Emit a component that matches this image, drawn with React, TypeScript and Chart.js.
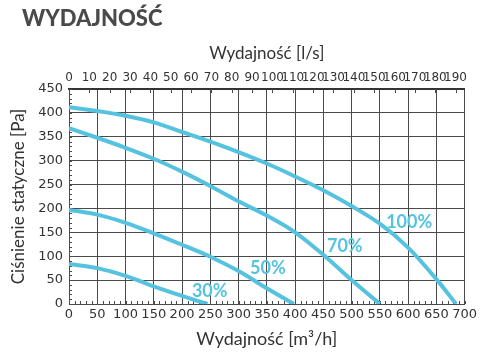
import React, { useEffect, useRef } from 'react';
import { Chart, registerables } from 'chart.js';

Chart.register(...registerables);

// ---- data ----
const flow100 = [0, 50, 100, 150, 200, 250, 300, 350, 400, 450, 500, 550, 600, 650, 685];
const pres100 = [412, 404, 394, 380, 360, 340, 318, 294, 267, 238, 205, 168, 118, 52, 0];
const flow70 = [0, 50, 100, 150, 200, 250, 300, 350, 400, 450, 500, 550];
const pres70 = [368, 348, 327, 304, 277, 247, 215, 185, 150, 103, 50, 0];
const flow50 = [0, 50, 100, 150, 200, 250, 300, 350, 398];
const pres50 = [197, 187, 170, 148, 124, 99, 69, 33, 0];
const flow30 = [0, 50, 100, 150, 200, 245];
const pres30 = [84, 75, 59, 37, 17, 0];

const seriesLabels = ['100%', '70%', '50%', '30%'];
const labelFlow = [602, 488, 352, 249];
const labelPres = [172, 121, 75, 27];

const lsTicks = [0, 10, 20, 30, 40, 50, 60, 70, 80, 90, 100, 110, 120, 130, 140, 150, 160, 170, 180, 190];

const titleText = 'WYDAJNOŚĆ';
const xTitle = 'Wydajność [m³/h]';
const x2Title = 'Wydajność [l/s]';
const yTitle = 'Ciśnienie statyczne [Pa]';

const M3H_PER_LS = 3.6;

const CURVE = '#55c3df';
const GRID = '#4a4a4a';
const TXT = '#333333';
const TICK_FONT = "'DejaVu Sans', 'Liberation Sans', sans-serif";
const TITLE_FONT = "'Lato', 'Open Sans', sans-serif";

const toPts = (xs: number[], ys: number[]) => xs.map((x, i) => ({ x, y: ys[i] }));

const decorPlugin = {
  id: 'decor',
  beforeDatasetsDraw(chart: any) {
    const { ctx, chartArea } = chart;
    const x = chart.scales.x;
    const y = chart.scales.y;
    const x2 = chart.scales.x2;
    ctx.save();
    ctx.strokeStyle = GRID;
    ctx.lineWidth = 1;
    ctx.beginPath();
    for (let v = 0; v <= 700; v += 10) {
      const px = Math.round(x.getPixelForValue(v)) + 0.5;
      ctx.moveTo(px, chartArea.bottom);
      ctx.lineTo(px, chartArea.bottom - 3);
    }
    for (let v = 0; v <= 450; v += 10) {
      const py = Math.round(y.getPixelForValue(v)) + 0.5;
      ctx.moveTo(chartArea.left, py);
      ctx.lineTo(chartArea.left + 3, py);
    }
    lsTicks.forEach((v) => {
      const px = Math.round(x2.getPixelForValue(v)) + 0.5;
      ctx.moveTo(px, chartArea.top);
      ctx.lineTo(px, chartArea.top + 4);
    });
    ctx.stroke();
    ctx.restore();
  },
  afterDraw(chart: any) {
    const { ctx, chartArea } = chart;
    const x = chart.scales.x;
    const y = chart.scales.y;
    ctx.save();
    ctx.font = `900 22px ${TITLE_FONT}`;
    ctx.fillStyle = '#4a4a4a';
    ctx.textAlign = 'left';
    ctx.textBaseline = 'alphabetic';
    ctx.fillText(titleText, 22, 26);

    // y-axis title
    ctx.save();
    ctx.translate(19, (chartArea.top + chartArea.bottom) / 2);
    ctx.rotate(-Math.PI / 2);
    ctx.font = `17px ${TITLE_FONT}`;
    ctx.fillStyle = TXT;
    ctx.textAlign = 'center';
    ctx.textBaseline = 'middle';
    ctx.fillText(yTitle, 0, 0);
    ctx.restore();

    ctx.font = `bold 18px ${TITLE_FONT}`;
    ctx.fillStyle = CURVE;
    ctx.textAlign = 'center';
    ctx.textBaseline = 'middle';
    seriesLabels.forEach((t, i) => {
      ctx.fillText(t, x.getPixelForValue(labelFlow[i]), y.getPixelForValue(labelPres[i]));
    });
    ctx.restore();
  },
};

export default function App() {
  const ref = useRef<HTMLCanvasElement>(null);
  useEffect(() => {
    document.body.style.margin = '0';
    const canvas = ref.current!;
    const mk = (xs: number[], ys: number[], label: string) => ({
      label,
      data: toPts(xs, ys),
      borderColor: CURVE,
      backgroundColor: CURVE,
      borderWidth: 4,
      pointRadius: 0,
      cubicInterpolationMode: 'monotone' as const,
      fill: false,
    });
    const chart = new Chart(canvas, {
      type: 'line',
      data: {
        datasets: [
          mk(flow100, pres100, seriesLabels[0]),
          mk(flow70, pres70, seriesLabels[1]),
          mk(flow50, pres50, seriesLabels[2]),
          mk(flow30, pres30, seriesLabels[3]),
        ],
      },
      options: {
        responsive: false,
        animation: false,
        layout: { padding: { left: 0, right: 12, top: 0, bottom: 0 } },
        plugins: { legend: { display: false }, tooltip: { enabled: false }, title: { display: false } },
        scales: {
          x: {
            type: 'linear',
            position: 'bottom',
            min: 0,
            max: 700,
            ticks: { stepSize: 50, autoSkip: false, maxRotation: 0, padding: 3, color: TXT, font: { family: TICK_FONT, size: 13, style: 'condensed' as any } },
            grid: { color: GRID, lineWidth: 1, drawTicks: false },
            border: { color: GRID, width: 1 },
            title: { display: true, text: xTitle, color: TXT, font: { family: TITLE_FONT, size: 18 }, padding: { top: 0, bottom: 3 } },
            afterFit: (s: any) => { s.height = 49; },
          },
          x2: {
            type: 'linear',
            position: 'top',
            min: 0,
            max: 700 / M3H_PER_LS,
            afterBuildTicks: (s: any) => { s.ticks = lsTicks.map((v) => ({ value: v })); },
            ticks: { autoSkip: false, maxRotation: 0, padding: 4, color: TXT, font: { family: TICK_FONT, size: 12, style: 'condensed' as any } },
            grid: { display: false, drawTicks: false },
            border: { display: true, color: '#333', width: 2 },
            title: { display: true, text: x2Title, color: TXT, font: { family: TITLE_FONT, size: 17 }, padding: { top: 43, bottom: 0 } },
            afterFit: (s: any) => { s.height = 89; },
          },
          y: {
            type: 'linear',
            min: 0,
            max: 450,
            ticks: { stepSize: 50, padding: 6, color: TXT, font: { family: TICK_FONT, size: 13, style: 'condensed' as any } },
            grid: { color: GRID, lineWidth: 1, drawTicks: false },
            border: { color: GRID, width: 1 },
            title: { display: false, text: yTitle },
            afterFit: (s: any) => { s.width = 69; },
          },
        },
      },
      plugins: [decorPlugin],
    });
    return () => chart.destroy();
  }, []);
  return (
    <div style={{ width: 480, height: 353, background: '#fff' }}>
      <canvas ref={ref} width={480} height={353} style={{ display: 'block' }} />
    </div>
  );
}
